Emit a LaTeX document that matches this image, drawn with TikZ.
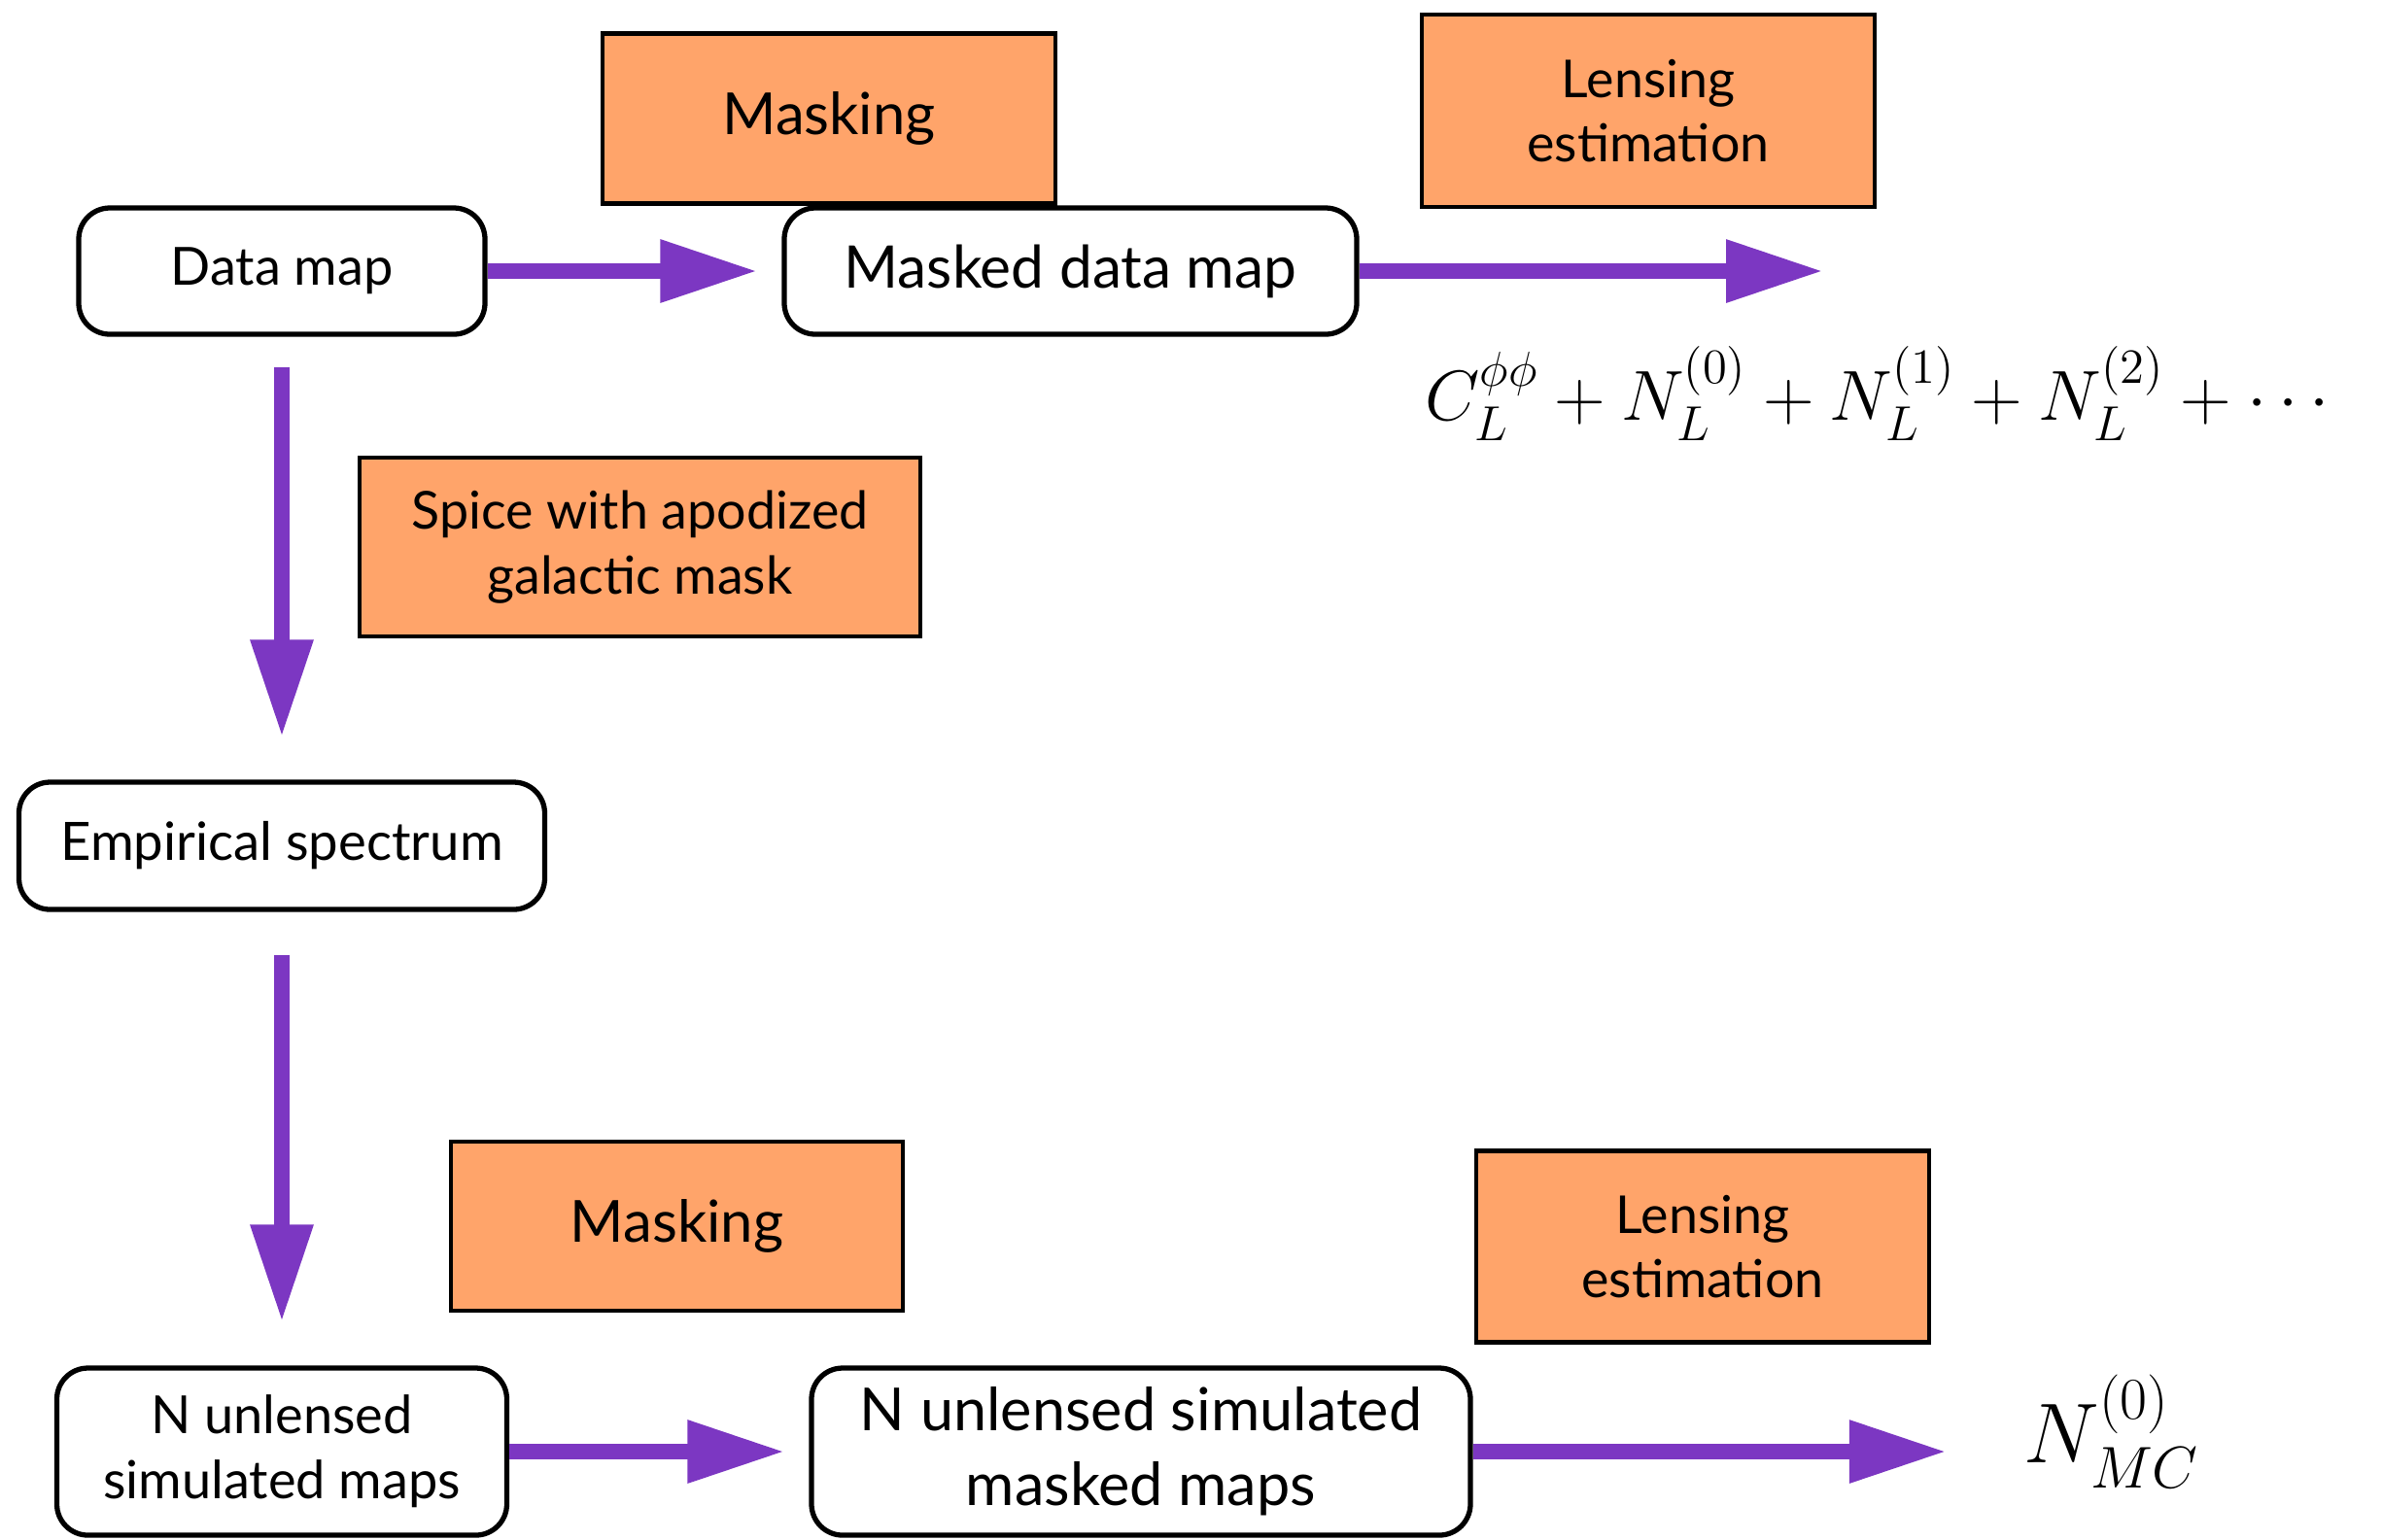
\documentclass[tikz,border=0pt]{standalone}
\usepackage{fontspec}
\setmainfont{Lato}
\usepackage{amsmath}
\usetikzlibrary{arrows.meta,positioning}
\definecolor{StepOrange}{HTML}{FFA46A}
\definecolor{FlowPurple}{HTML}{7C37C2}
\tikzset{
  stepbox/.style={draw=black,line width=1.4pt,fill=StepOrange,align=center,
    minimum width=46.6mm,inner sep=0pt},
  mapbox/.style={draw=black,line width=1.5pt,fill=white,rounded corners=3.2mm,
    align=center,minimum height=13mm,inner sep=0pt},
  flow/.style={draw=FlowPurple,line width=4.5pt,
    -{Triangle[length=10mm,width=6.1mm]}},
}
\begin{document}
\begin{tikzpicture}[x=1mm,y=-1mm]
\useasboundingbox (0,0) rectangle (245.1,158.4);
% processing steps
\node[stepbox,minimum height=17.5mm,font=\fontsize{17}{22}\selectfont] (mask1) at (85.3,12.2) {\raisebox{-0.6mm}{Masking}};
\node[stepbox,minimum height=19.8mm,font=\fontsize{15.3}{19}\selectfont] (lens1) at (169.6,11.4) {Lensing\\estimation};
\node[stepbox,minimum width=57.7mm,minimum height=18.4mm,font=\fontsize{15.3}{19}\selectfont] (spice) at (65.85,56.3) {Spice with apodized\\galactic mask};
\node[stepbox,minimum width=46.5mm,minimum height=17.4mm,font=\fontsize{17}{22}\selectfont] (mask2) at (69.65,126.2) {\raisebox{-0.6mm}{Masking}};
\node[stepbox,minimum height=19.7mm,font=\fontsize{15.3}{19}\selectfont] (lens2) at (175.2,128.3) {Lensing\\estimation};
% maps
\node[mapbox,minimum width=41.8mm,font=\fontsize{15.4}{20}\selectfont] (data) at (29.0,27.9) {\raisebox{-0.5mm}{Data map}};
\node[mapbox,minimum width=58.9mm,font=\fontsize{17.2}{22}\selectfont] (masked) at (110.15,27.9) {\raisebox{-0.5mm}{Masked data map}};
\node[mapbox,minimum width=54.1mm,minimum height=13.1mm,font=\fontsize{15.5}{19}\selectfont] (emp) at (29.0,87.05) {Empirical spectrum};
\node[mapbox,minimum width=46.3mm,minimum height=17.2mm,font=\fontsize{15.4}{19}\selectfont] (sims) at (29.0,149.4) {N unlensed\\simulated maps};
\node[mapbox,minimum width=67.8mm,minimum height=17.2mm,font=\fontsize{17.4}{22}\selectfont] (simmask) at (117.4,149.4) {N unlensed simulated\\masked maps};
% results
\node[inner sep=0pt,font=\fontsize{21.3}{26}\selectfont] (spec) at (193.8,40.5) {$C_L^{\phi\phi}+N_L^{(0)}+N_L^{(1)}+N_L^{(2)}+\cdots$};
\node[inner sep=0pt,font=\fontsize{23}{28}\selectfont] (nmc) at (217.3,147.3) {$N_{MC}^{(0)}$};
\coordinate (topend) at (187.6,27.9);
% arrows
\draw[flow,shorten >=2.5mm] (data.east) -- (masked.west);
\draw[flow] (masked.east) -- (topend);
\draw[flow,shorten <=3.1mm,shorten >=4.4mm] (data.south) -- (emp.north);
\draw[flow,shorten <=4.4mm,shorten >=4.5mm] (emp.south) -- (sims.north);
\draw[flow,shorten >=2.5mm] (sims.east) -- (simmask.west);
\draw[flow,shorten >=7.9mm] (simmask.east) -- (nmc.west |- simmask.east);
\end{tikzpicture}
\end{document}
